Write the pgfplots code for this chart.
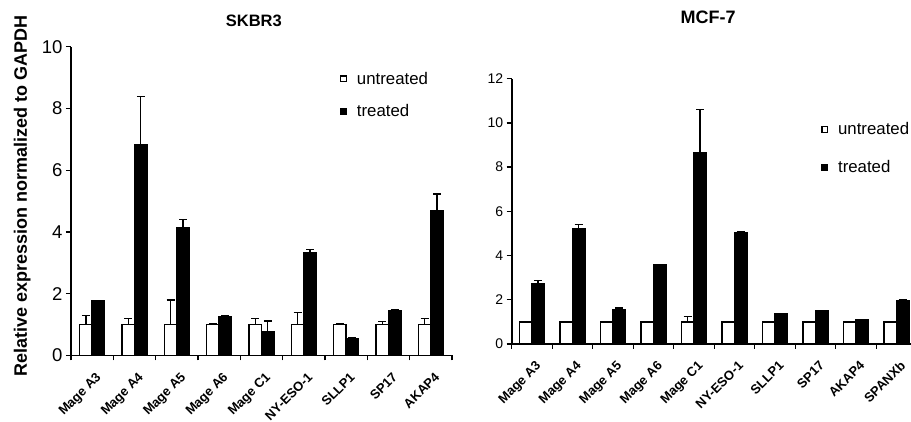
\documentclass[border=0pt]{standalone}
\usepackage{fontspec}
\setmainfont{Liberation Sans}
\usepackage{pgfplots}
\usepackage{pgfplotstable}
\pgfplotsset{compat=1.18}

% xu / xt: positions of the untreated / treated bar of each category
\pgfplotstableread{
x xu xt u ue t te
0 -0.148 0.148 1 0.30 1.77 0.02
1 0.852 1.148 1 0.20 6.82 1.57
2 1.852 2.148 1 0.80 4.13 0.28
3 2.852 3.148 1 0.03 1.27 0.02
4 3.852 4.148 1 0.20 0.77 0.35
5 4.852 5.148 1 0.40 3.32 0.11
6 5.852 6.148 1 0.03 0.55 0.02
7 6.852 7.148 1 0.10 1.44 0.04
8 7.852 8.148 1 0.20 4.68 0.55
}\skbr

\pgfplotstableread{
x xu xt u ue t te
0 -0.154 0.154 1 0.02 2.71 0.15
1 0.846 1.154 1 0.03 5.21 0.20
2 1.846 2.154 1 0.02 1.57 0.05
3 2.846 3.154 1 0.03 3.58 0.02
4 3.846 4.154 1 0.25 8.63 1.97
5 4.846 5.154 1 0.03 5.05 0.04
6 5.846 6.154 1 0.03 1.35 0.03
7 6.846 7.154 1 0.02 1.50 0.02
8 7.846 8.154 1 0.02 1.09 0.02
9 8.846 9.154 1 0.02 1.98 0.03
}\mcf

\pgfplotsset{
  mybase/.style={
    scale only axis, clip=false,
    axis x line*=bottom, axis y line*=left,
    axis line style={line width=1.6pt, -},
    ymin=0,
    tick align=outside,
    major tick length=5pt,
    minor tick length=5pt,
    y tick style={line width=1.4pt, black},
    major x tick style={draw=none},
    minor x tick style={line width=1.4pt, black},
    /pgf/number format/assume math mode=true,
    xticklabel style={font=\bfseries\fontsize{13}{15}\selectfont, xshift=3pt, yshift=-11pt, rotate=45, anchor=north east, inner sep=0pt},
    legend style={draw=none, fill=none, inner sep=0pt, legend cell align=left,
      nodes={inner sep=0pt},
      /tikz/every odd column/.append style={column sep=10pt}},
  },
  barcommon/.style={ybar, bar width=12.5pt, bar shift=0pt, draw=black, line width=1.4pt,
    error bars/.cd, y dir=plus, y explicit,
    error bar style={line width=1.4pt, black},
    error mark options={rotate=90, mark size=4pt, line width=1.4pt, black}},
  untr/.style={fill=white, barcommon},
  trt/.style={fill=black, barcommon},
}

\begin{document}
\begin{tikzpicture}[x=1pt,y=1pt]
\useasboundingbox (0,0) rectangle (911,422);
\clip (0,0) rectangle (911,422);

% ---------- SKBR3 ----------
\begin{axis}[mybase,
  at={(71pt,66.5pt)}, anchor=south west,
  width=381pt, height=308.8pt,
  xmin=-0.5, xmax=8.5, ymax=10,
  ytick={0,2,...,10},
  yticklabel style={font=\fontsize{18.5}{21}\selectfont},
  xtick={0,...,8},
  minor xtick={-0.5,0.5,...,8.5},
  xticklabels={Mage A3,Mage A4,Mage A5,Mage A6,Mage C1,NY-ESO-1,SLLP1,SP17,AKAP4},
  ylabel={\bfseries\fontsize{18}{21}\selectfont Relative expression normalized to GAPDH},
  ylabel style={at={(axis description cs:-0.128,0.516)}, anchor=center},
  legend style={at={(axis description cs:0.706,0.919)}, anchor=north west,
    font=\fontsize{16.8}{19}\selectfont, row sep=19pt},
]
\addlegendimage{legend image code/.code={\draw[draw=black,fill=white,line width=1.2pt] (0pt,-2.8pt) rectangle (5.6pt,2.8pt);}}
\addlegendentry{untreated}
\addlegendimage{legend image code/.code={\draw[draw=black,fill=black,line width=1.2pt] (0pt,-2.8pt) rectangle (5.6pt,2.8pt);}}
\addlegendentry{treated}
\addplot[untr] table[x=xu, y=u, y error=ue] {\skbr};
\addplot[trt] table[x=xt, y=t, y error=te] {\skbr};
\node[anchor=base, font=\bfseries\fontsize{16.5}{19}\selectfont] at (axis description cs:0.48,1.0648) {SKBR3};
\end{axis}

% ---------- MCF-7 ----------
\begin{axis}[mybase,
  at={(511.7pt,78pt)}, anchor=south west,
  width=405pt, height=265.3pt,
  xmin=-0.5, xmax=9.5, ymax=12,
  ytick={0,2,...,12},
  yticklabel style={font=\fontsize{14}{16}\selectfont},
  xtick={0,...,9},
  minor xtick={-0.5,0.5,...,9.5},
  xticklabels={Mage A3,Mage A4,Mage A5,Mage A6,Mage C1,NY-ESO-1,SLLP1,SP17,AKAP4,SPANXb},
  legend style={at={(axis description cs:0.764,0.835)}, anchor=north west,
    font=\fontsize{16.8}{19}\selectfont, row sep=24pt},
]
\addlegendimage{legend image code/.code={\draw[draw=black,fill=white,line width=1.2pt] (0pt,-2.8pt) rectangle (5.6pt,2.8pt);}}
\addlegendentry{untreated}
\addlegendimage{legend image code/.code={\draw[draw=black,fill=black,line width=1.2pt] (0pt,-2.8pt) rectangle (5.6pt,2.8pt);}}
\addlegendentry{treated}
\addplot[untr] table[x=xu, y=u, y error=ue] {\mcf};
\addplot[trt] table[x=xt, y=t, y error=te] {\mcf};
\node[anchor=base, font=\bfseries\fontsize{18}{21}\selectfont] at (axis description cs:0.485,1.2088) {MCF-7};
\end{axis}
\end{tikzpicture}
\end{document}
